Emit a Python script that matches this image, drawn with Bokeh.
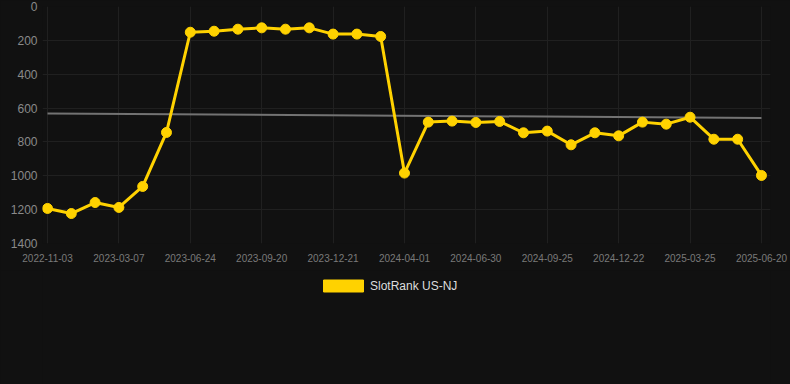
import numpy as np
from bokeh.plotting import figure
from bokeh.layouts import column
from bokeh.models import Range1d, Legend, LegendItem, FixedTicker, GlobalInlineStyleSheet
from bokeh.embed import file_html
from bokeh.resources import INLINE

# ---- data ----
tick_labels = ["2022-11-03", "2023-03-07", "2023-06-24", "2023-09-20", "2023-12-21",
               "2024-04-01", "2024-06-30", "2024-09-25", "2024-12-22", "2025-03-25",
               "2025-06-20"]
ranks = [1193, 1223, 1158, 1187, 1063, 744,
         152, 146, 134, 126, 134, 126, 163, 163, 177,
         984, 683, 677, 685, 679, 746, 736, 817, 746, 764,
         683, 695, 654, 784, 784, 998]
series_name = "SlotRank US-NJ"
y_ticks = [0, 200, 400, 600, 800, 1000, 1200, 1400]

x = list(range(len(ranks)))
tick_pos = x[::3]

BG = "#111111"
GOLD = "#ffd200"
FONT = "Liberation Sans"
css = GlobalInlineStyleSheet(css="html,body{margin:0;padding:0;background:#111111;overflow:hidden;}")

p = figure(width=790, height=270, output_backend="svg", toolbar_location=None,
           x_range=Range1d(-0.21, 30.38), y_range=Range1d(1400, 0),
           min_border_left=42, min_border_right=20, min_border_top=6,
           min_border_bottom=27, stylesheets=[css])
p.background_fill_color = BG
p.border_fill_color = BG
p.outline_line_color = None

# grid
p.xgrid.ticker = FixedTicker(ticks=tick_pos)
p.ygrid.ticker = FixedTicker(ticks=y_ticks)
p.grid.grid_line_color = "#202020"
p.grid.grid_line_width = 1

# axes
p.xaxis.ticker = FixedTicker(ticks=tick_pos)
p.xaxis.major_label_overrides = {pos: lab for pos, lab in zip(tick_pos, tick_labels)}
p.yaxis.ticker = FixedTicker(ticks=y_ticks)
for ax in (p.xaxis, p.yaxis):
    ax.axis_line_color = None
    ax.major_tick_line_color = None
    ax.minor_tick_line_color = None
    ax.major_tick_out = 0
    ax.major_tick_in = 0
    ax.major_label_text_font = FONT
p.xaxis.major_label_text_font_size = "10px"
p.xaxis.major_label_text_color = "#7a7a7a"
p.xaxis.major_label_standoff = 10
p.yaxis.major_label_text_font_size = "12px"
p.yaxis.major_label_text_color = "#8a8a8a"
p.yaxis.major_label_standoff = 5

# trend line (linear regression of the series)
coef = np.polyfit(x, ranks, 1)
tx = [x[0], x[-1]]
ty = [float(np.polyval(coef, v)) for v in tx]
p.line(tx, ty, line_color="#737373", line_width=2)

# main series
p.line(x, ranks, line_color=GOLD, line_width=3)
p.scatter(x, ranks, size=10, fill_color=GOLD, line_color=GOLD)

# legend area below the chart
lg = figure(width=790, height=114, output_backend="svg", toolbar_location=None,
            min_border=0, x_axis_location=None, y_axis_location=None,
            x_range=Range1d(0, 1), y_range=Range1d(0, 1))
lg.background_fill_color = BG
lg.border_fill_color = BG
lg.outline_line_color = None
lg.grid.visible = False
nan = float("nan")
sw = lg.quad(left=[nan], right=[nan], top=[nan], bottom=[nan],
             fill_color=GOLD, line_color=GOLD)
legend = Legend(items=[LegendItem(label=series_name, renderers=[sw])],
                location=(276, 91), orientation="horizontal",
                glyph_width=50, glyph_height=15,
                label_text_font=FONT, label_text_font_size="12px",
                label_text_color="#dddddd", label_standoff=2,
                background_fill_alpha=0, border_line_alpha=0,
                margin=0, padding=0)
lg.add_layout(legend, "center")

layout = column(p, lg, spacing=0, stylesheets=[css])
open("out.html", "w").write(file_html(layout, INLINE))
